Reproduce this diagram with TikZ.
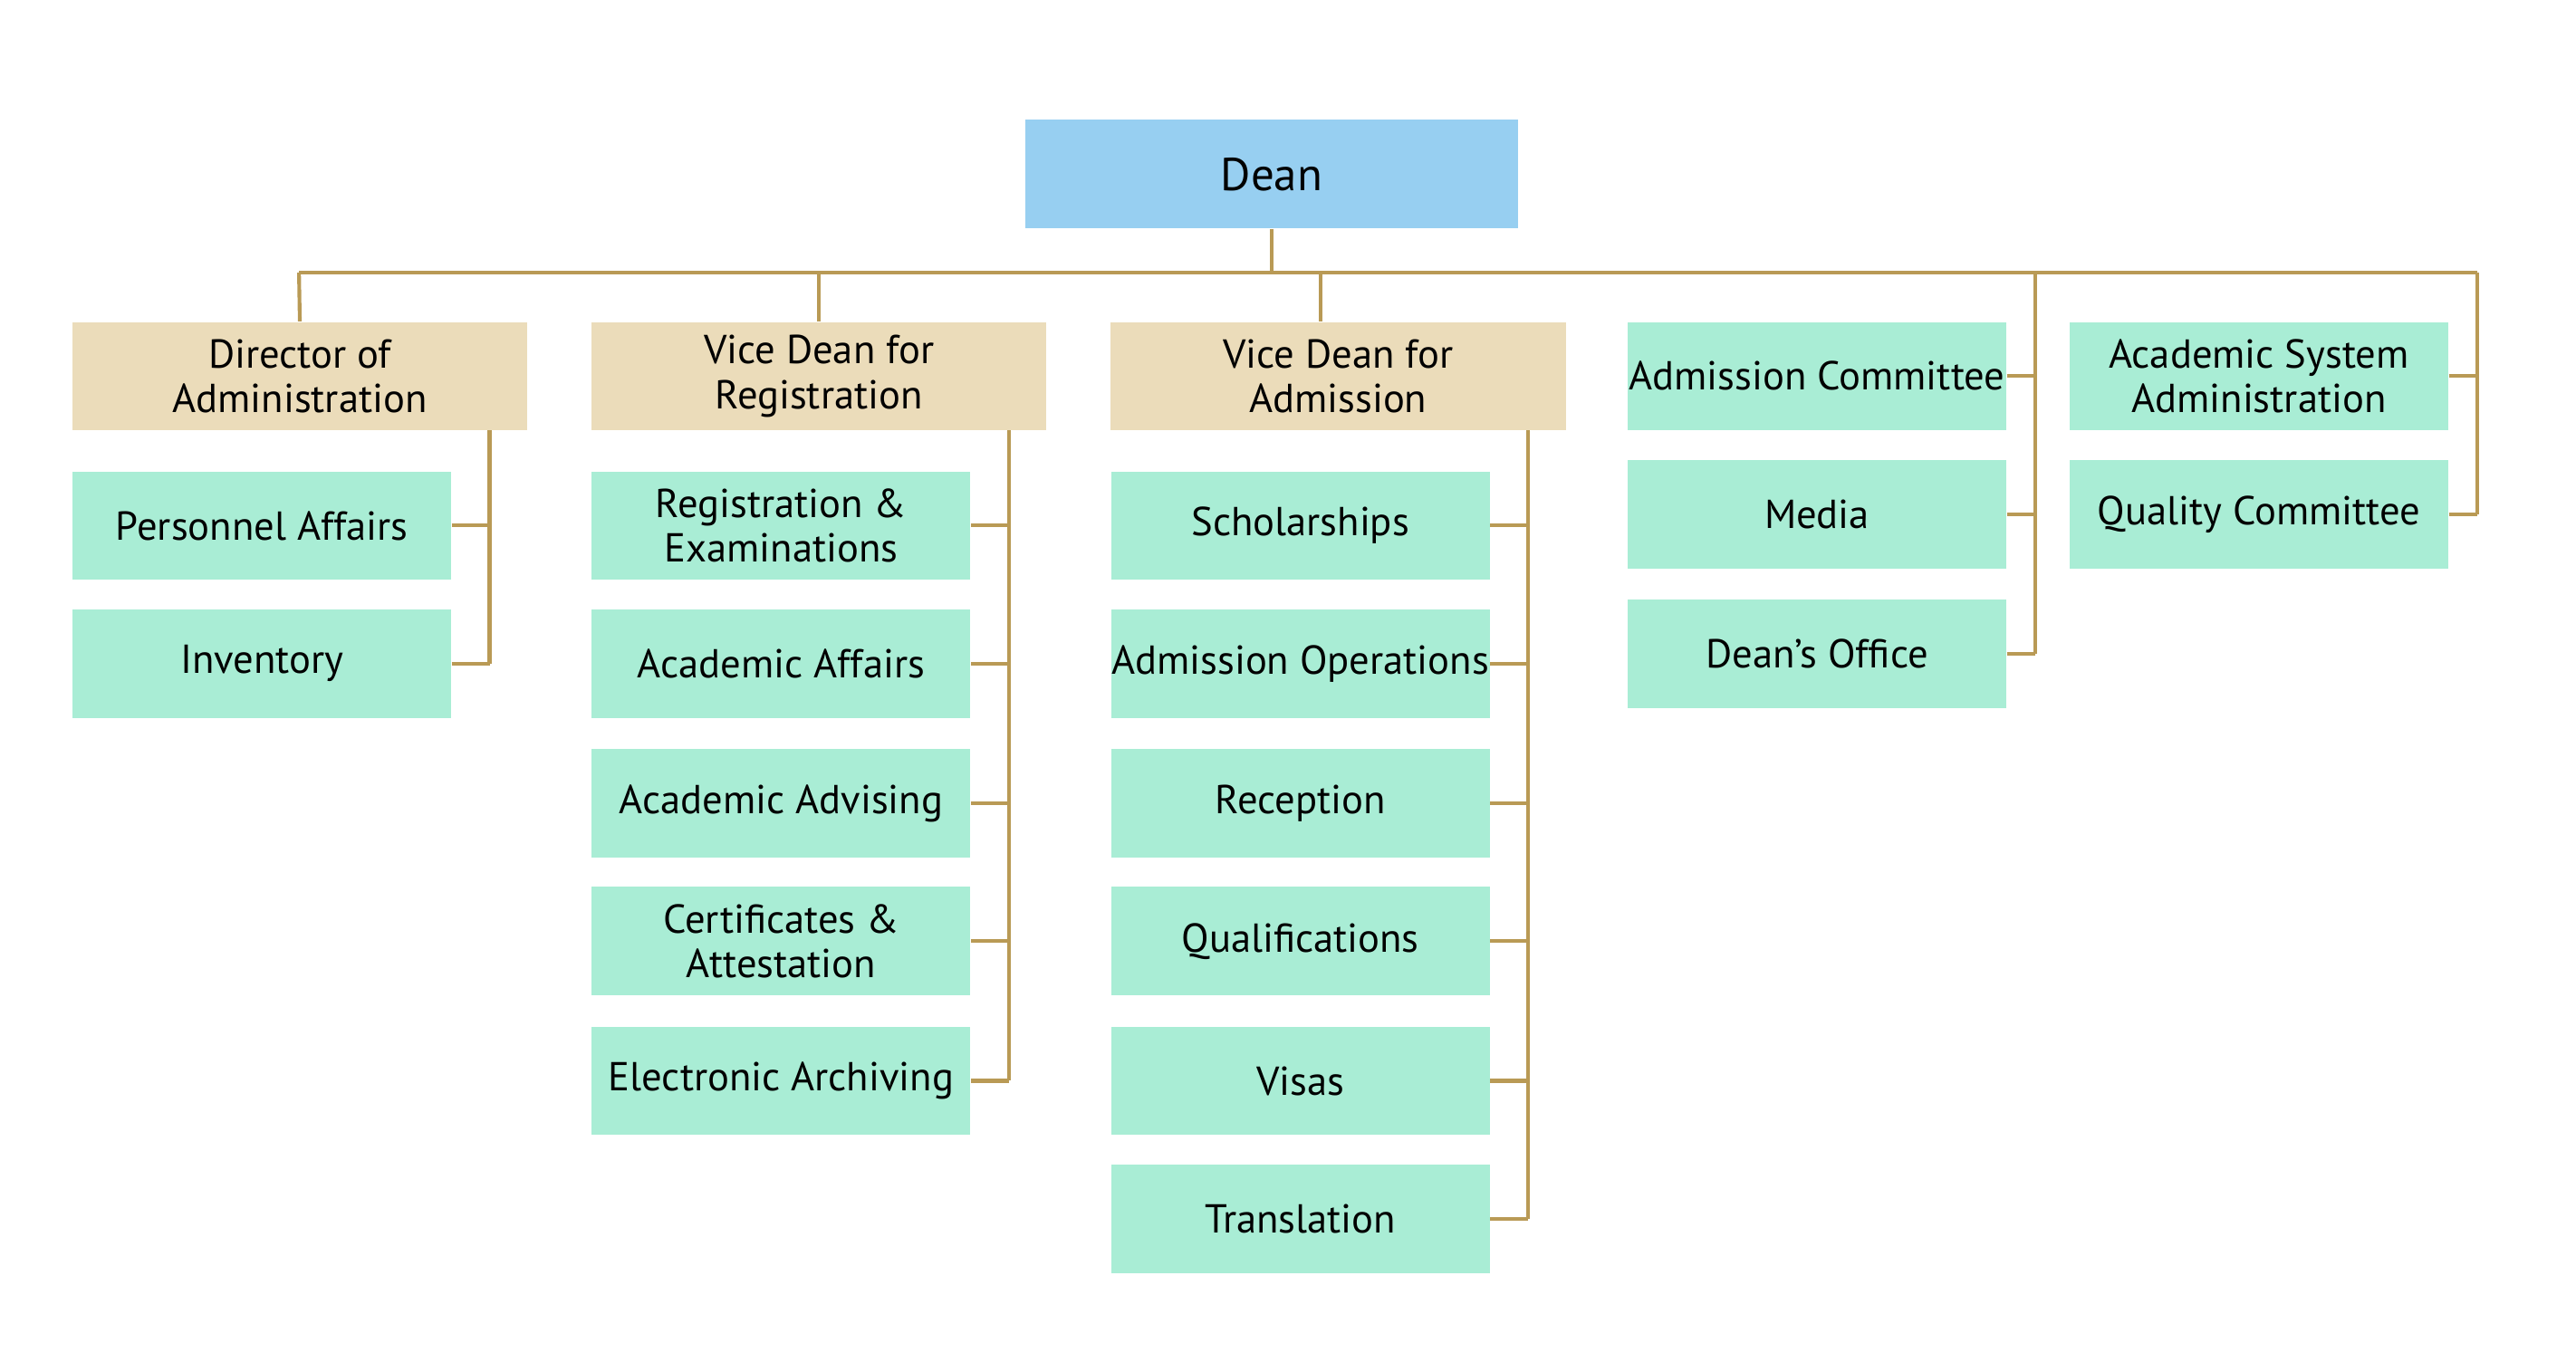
\documentclass[tikz,border=0pt]{standalone}
\usepackage{fontspec}
\setmainfont{PT Sans}
\usetikzlibrary{positioning}
\definecolor{deanblue}{HTML}{97CFF1}
\definecolor{headtan}{HTML}{EBDCBA}
\definecolor{unitgreen}{HTML}{A9EDD5}
\definecolor{linkgold}{HTML}{B99A55}
\tikzstyle{box} = [rectangle, minimum height=1.32cm, align=center, font=\fontsize{14}{15.5}\selectfont, inner sep=0pt]
\tikzstyle{dean} = [box, fill=deanblue, minimum width=6cm, font=\fontsize{16}{18}\selectfont]
\tikzstyle{head} = [box, fill=headtan, minimum width=5.54cm]
\tikzstyle{unit} = [box, fill=unitgreen, minimum width=4.61cm]
\tikzstyle{link} = [draw=linkgold, line width=1.3pt]

\begin{document}
\begin{tikzpicture}[x=0.02cm, y=-0.02cm]
			\useasboundingbox (0,0) rectangle (1568,829);
			\node [dean] (dean) at (774,106) {Dean};
			\node [head] (dir) at (182.5,229) {Director of\\Administration};
			\node [head] (vreg) at (498.5,229) {Vice Dean for\\Registration};
			\node [head] (vadm) at (814.5,229) {Vice Dean for\\Admission};
			% column 1
			\node [unit] (pers) at (159.5,320) {Personnel Affairs};
			\node [unit] (inv) at (159.5,404) {Inventory};
			% column 2
			\node [unit] (regex) at (475.5,320) {Registration \&\\Examinations};
			\node [unit] (acaff) at (475.5,404) {Academic Affairs};
			\node [unit] (acadv) at (475.5,489) {Academic Advising};
			\node [unit] (cert) at (475.5,573) {Certificates \&\\Attestation};
			\node [unit] (arch) at (475.5,658) {Electronic Archiving};
			% column 3
			\node [unit] (schol) at (791.5,320) {Scholarships};
			\node [unit] (admop) at (791.5,404) {Admission Operations};
			\node [unit] (recep) at (791.5,489) {Reception};
			\node [unit] (qual) at (791.5,573) {Qualifications};
			\node [unit] (visa) at (791.5,658) {Visas};
			\node [unit] (trans) at (791.5,742) {Translation};
			% columns 4 and 5
			\node [unit] (admcom) at (1106,229) {Admission Committee};
			\node [unit] (media) at (1106,313) {Media};
			\node [unit] (office) at (1106,398) {Dean’s Office};
			\node [unit] (acsys) at (1375,229) {Academic System\\Administration};
			\node [unit] (quality) at (1375,313) {Quality Committee};

			\coordinate (busL) at (182,166);
			\coordinate (busR) at (1508,166);
			\draw [link] (dean.south) -- (dean.south |- busL);
			\draw [link] (busL) -- (busR);
			\draw [link] (busL) -- (dir.north);
			\draw [link] (vreg.north |- busL) -- (vreg.north);
			\draw [link] (804,166) -- (vadm.north -| 804,0);
			\draw [link] (298,262) -- (298,404);
			\foreach \n in {pers,inv} \draw [link] (\n.east) -- (\n.east -| 298,0);
			\draw [link] (614,262) -- (614,658);
			\foreach \n in {regex,acaff,acadv,cert,arch} \draw [link] (\n.east) -- (\n.east -| 614,0);
			\draw [link] (930,262) -- (930,742);
			\foreach \n in {schol,admop,recep,qual,visa,trans} \draw [link] (\n.east) -- (\n.east -| 930,0);
			\draw [link] (1239,166) -- (1239,398);
			\foreach \n in {admcom,media,office} \draw [link] (\n.east) -- (\n.east -| 1239,0);
			\draw [link] (busR) -- (1508,313);
			\foreach \n in {acsys,quality} \draw [link] (\n.east) -- (\n.east -| 1508,0);
		\end{tikzpicture}
\end{document}
